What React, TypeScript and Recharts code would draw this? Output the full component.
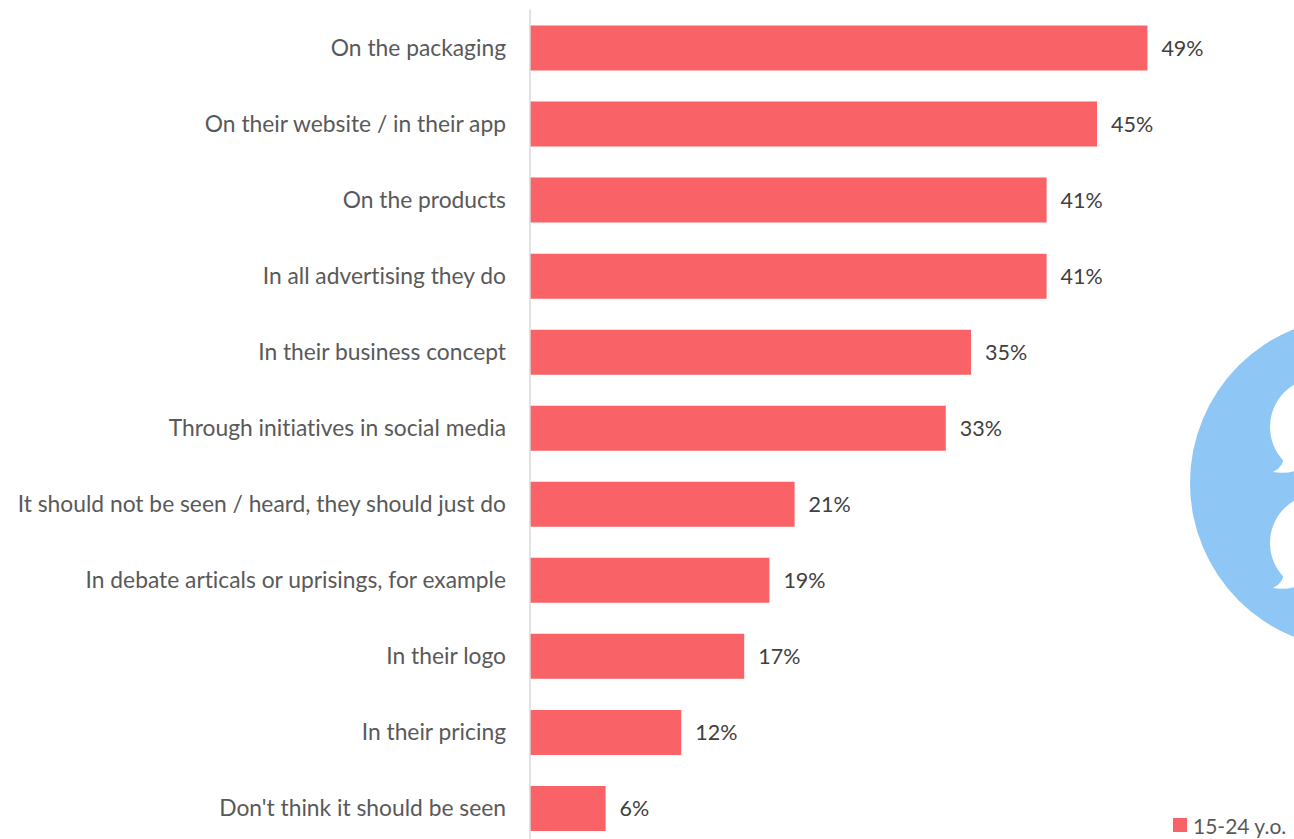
import React from 'react';
import { BarChart, Bar, XAxis, YAxis, Legend, LabelList } from 'recharts';

const categories = [
  'On the packaging',
  'On their website / in their app',
  'On the products',
  'In all advertising they do',
  'In their business concept',
  'Through initiatives in social media',
  'It should not be seen / heard, they should just do',
  'In debate articals or uprisings, for example',
  'In their logo',
  'In their pricing',
  "Don't think it should be seen",
];
const youngAdults = [49, 45, 41, 41, 35, 33, 21, 19, 17, 12, 6];
const seriesName = '15-24 y.o.';

const rows = categories.map((category, i) => ({ category, value: youngAdults[i] }));

const FONT = 'Lato, "Open Sans", sans-serif';
const LEGEND_HEIGHT = 24;

// Speech-bubble badge, cropped by the right edge of the page
const BubbleBadge = () => (
  <svg width={1294} height={839} style={{ position: 'absolute', left: 0, top: 0 }}>
    <circle cx={1356} cy={483} r={166} fill="#8EC7F5" />
    {[427, 543].map(cy => (
      <g key={cy} fill="#fff">
        <circle cx={1319} cy={cy} r={49} />
        <path d={`M1284 ${cy + 28} Q1284 ${cy + 40} 1273 ${cy + 45} Q1290 ${cy + 48} 1304 ${cy + 40} Z`} />
      </g>
    ))}
  </svg>
);

const LegendRow = () => (
  <div style={{ display: 'flex', alignItems: 'center', height: LEGEND_HEIGHT, fontFamily: FONT, fontSize: 21, color: '#595959', fontVariantLigatures: 'none' }}>
    <span style={{ width: 14, height: 14, background: '#F96266', marginRight: 6 }} />
    {seriesName}
  </div>
);

export default function App() {
  return (
    <div style={{ position: 'absolute', left: 0, top: 0, width: 1294, height: 839, overflow: 'hidden', background: '#fff' }}>
      <BubbleBadge />
      <BarChart
        width={1294}
        height={850 + LEGEND_HEIGHT}
        data={rows}
        layout="vertical"
        margin={{ top: 9.5, right: 134, bottom: 4, left: 0 }}
        barSize={45}
        style={{ position: 'absolute', left: 0, top: 0, fontVariantLigatures: 'none' }}
      >
        <XAxis type="number" domain={[0, 50]} hide />
        <YAxis
          type="category"
          dataKey="category"
          width={530}
          interval={0}
          tickLine={false}
          tickSize={0}
          tickMargin={24}
          axisLine={{ stroke: '#D9D9D9', strokeWidth: 1.5 }}
          tick={{ fill: '#595959', fontSize: 22.8, fontFamily: FONT }}
        />
        <Legend
          content={<LegendRow />}
          wrapperStyle={{ position: 'absolute', left: 1173, top: 813, bottom: 'auto', width: 'auto', height: LEGEND_HEIGHT }}
        />
        <Bar dataKey="value" name={seriesName} fill="#F96266" isAnimationActive={false}>
          <LabelList
            dataKey="value"
            position="right"
            offset={14}
            formatter={(v: number) => `${v}%`}
            style={{ fill: '#404040', fontSize: 21.5, fontFamily: FONT }}
          />
        </Bar>
      </BarChart>
    </div>
  );
}
